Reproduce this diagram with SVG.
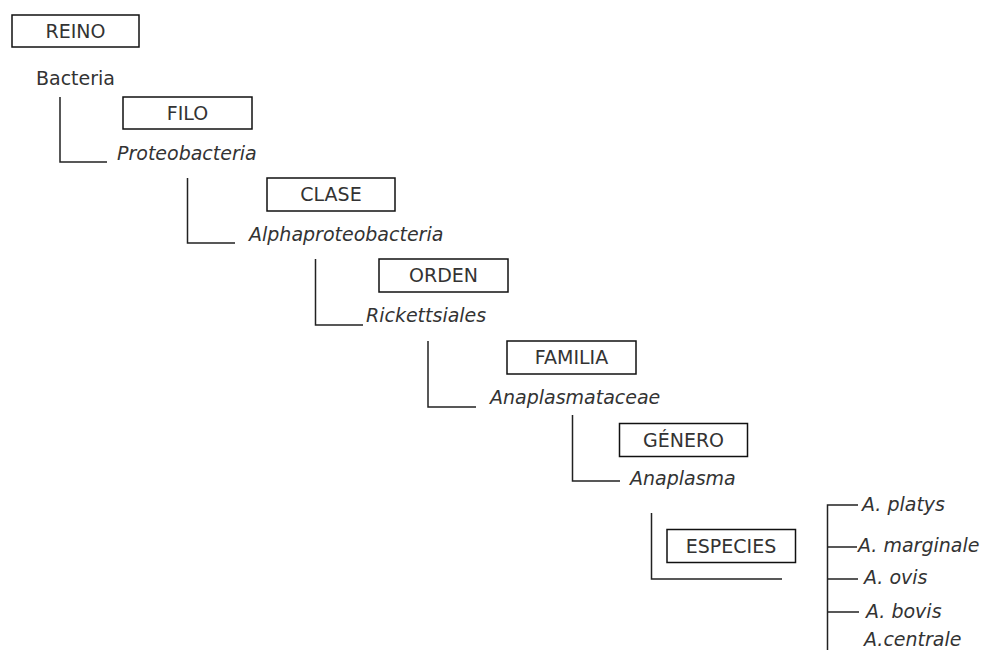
<svg xmlns="http://www.w3.org/2000/svg" width="987" height="650" viewBox="0 0 987 650">
<style>
.box{fill:#fff;stroke:#111;stroke-width:1.5}
.t{font-family:"DejaVu Sans",Verdana,sans-serif;font-size:19px;fill:#333}
.bt{text-anchor:middle}
.i{font-style:italic}
.ln{fill:none;stroke:#222;stroke-width:1.5}
</style>
<rect width="987" height="650" fill="#fff"/>
<g id="connectors">
<path class="ln" d="M60,97 V162 H107"/>
<path class="ln" d="M187.5,178 V243 H235"/>
<path class="ln" d="M315.5,259 V325 H363"/>
<path class="ln" d="M428,341 V407 H476"/>
<path class="ln" d="M572.5,415 V481 H620"/>
<path class="ln" d="M651.5,513 V579 H782"/>
<path class="ln" d="M827.5,650 V505 H858 M827.5,547 H857 M827.5,579 H858 M827.5,612 H859"/>
</g>
<g id="reino"><rect class="box" x="12" y="15" width="127" height="32"/><text class="t bt" x="75.5" y="38">REINO</text></g>
<g id="bacteria"><text class="t" x="36" y="85">Bacteria</text></g>
<g id="filo"><rect class="box" x="123" y="97" width="129" height="32"/><text class="t bt" x="187.5" y="120">FILO</text></g>
<g id="proteobacteria"><text class="t i" x="117" y="160">Proteobacteria</text></g>
<g id="clase"><rect class="box" x="267" y="178" width="128" height="33"/><text class="t bt" x="331" y="201">CLASE</text></g>
<g id="alphaproteobacteria"><text class="t i" x="249" y="241">Alphaproteobacteria</text></g>
<g id="orden"><rect class="box" x="379" y="259" width="129" height="33"/><text class="t bt" x="443.5" y="282">ORDEN</text></g>
<g id="rickettsiales"><text class="t i" x="366" y="322">Rickettsiales</text></g>
<g id="familia"><rect class="box" x="507" y="341" width="129" height="33"/><text class="t bt" x="571.5" y="364">FAMILIA</text></g>
<g id="anaplasmataceae"><text class="t i" x="490" y="404">Anaplasmataceae</text></g>
<g id="genero"><rect class="box" x="619.5" y="423.5" width="128" height="33"/><text class="t bt" x="683.5" y="446.5">GÉNERO</text></g>
<g id="anaplasma"><text class="t i" x="630" y="485">Anaplasma</text></g>
<g id="especies"><rect class="box" x="667" y="529.5" width="128.5" height="33"/><text class="t bt" x="731" y="552.5">ESPECIES</text></g>
<g id="platys"><text class="t i" x="862" y="511">A. platys</text></g>
<g id="marginale"><text class="t i" x="858" y="552">A. marginale</text></g>
<g id="ovis"><text class="t i" x="864" y="584">A. ovis</text></g>
<g id="bovis"><text class="t i" x="866" y="618">A. bovis</text></g>
<g id="centrale"><text class="t i" x="864" y="646">A.centrale</text></g>
</svg>
